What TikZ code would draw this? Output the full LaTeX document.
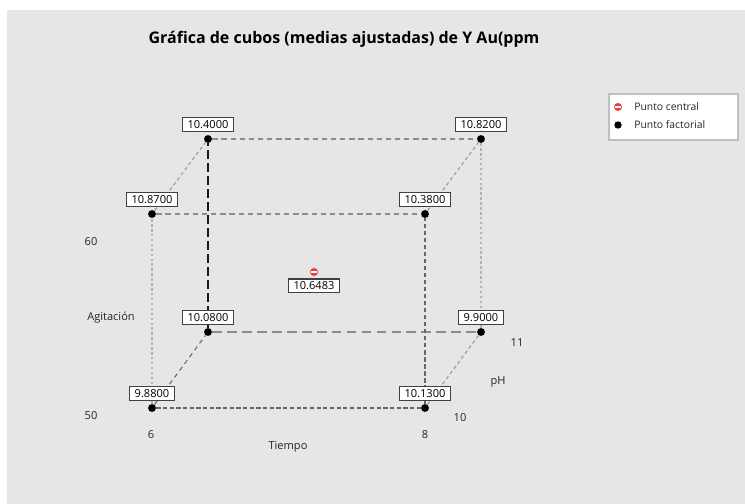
\documentclass[tikz,border=0pt]{standalone}
\usepackage{fontspec}
\setmainfont{Open Sans}
\usepackage{xcolor}
\usetikzlibrary{calc,positioning}

\definecolor{plotbg}{RGB}{230,230,230}
\definecolor{ptred}{RGB}{232,62,62}

\begin{document}
\begin{tikzpicture}[x=0.02cm,y=-0.02cm]

\tikzstyle{valbox} = [draw=black!75, line width=0.75pt, fill=white, rectangle, inner xsep=3pt, inner ysep=1.6pt, text height=4.6pt, text depth=0pt, font=\fontsize{6.3}{7}\selectfont];
\tikzstyle{mydot} = [fill,shape=circle,minimum width=4.5pt,inner sep=0pt];
\tikzstyle{reddot} = [fill=ptred,shape=circle,minimum width=4.6pt,inner sep=0pt];
\tikzstyle{axtext} = [text=black!85, inner sep=0pt, font=\fontsize{6.3}{7}\selectfont];

% background
\fill [white] (0,0) rectangle (745,504);
\fill [plotbg] (7,10) rectangle (745,504);

\node (title) at (344,39) {\fontsize{9.1}{11}\selectfont\bfseries Gráfica de cubos (medias ajustadas) de Y Au(ppm};

% corners of the cube
\node [mydot] (n1) at (152,408) {};
\node [mydot] (n2) at (425,408) {};
\node [mydot] (n3) at (208,332) {};
\node [mydot] (n4) at (481,332) {};
\node [mydot] (n5) at (152,214) {};
\node [mydot] (n6) at (425,214) {};
\node [mydot] (n7) at (208,139) {};
\node [mydot] (n8) at (481,139) {};

% Tiempo
\draw [black!60, line width=0.6pt, dash pattern=on 2.4pt off 1.4pt] (n1) -- (n2);
\draw [black!45, line width=0.7pt, dash pattern=on 5.5pt off 3pt] (n3) -- (n4);
\draw [black!45, line width=0.7pt, dash pattern=on 3pt off 2.2pt] (n5) -- (n6);
\draw [black!45, line width=0.7pt, dash pattern=on 3pt off 2.2pt] (n7) -- (n8);
% Agitacion
\draw [black!30, line width=0.6pt, dash pattern=on 1.4pt off 1.4pt] (n1) -- (n5);
\draw [black!60, line width=0.6pt, dash pattern=on 2.4pt off 1.6pt] (n2) -- (n6);
\draw [black!90, line width=0.9pt, dash pattern=on 5pt off 2.4pt] (n3) -- (n7);
\draw [black!30, line width=0.6pt, dash pattern=on 1.4pt off 1.4pt] (n4) -- (n8);
% pH
\draw [black!60, line width=0.6pt, dash pattern=on 2.6pt off 2.2pt] (n1) -- (n3);
\draw [black!40, line width=0.6pt, dash pattern=on 2pt off 1.6pt] (n2) -- (n4);
\draw [black!40, line width=0.6pt, dash pattern=on 2pt off 1.6pt] (n5) -- (n7);
\draw [black!40, line width=0.6pt, dash pattern=on 2pt off 1.6pt] (n6) -- (n8);

% fitted means
\node (v1) [valbox,above=0.05cm of n1] {9.8800};
\node (v2) [valbox,above=0.05cm of n2] {10.1300};
\node (v3) [valbox,above=0.05cm of n3] {10.0800};
\node (v4) [valbox,above=0.05cm of n4] {9.9000};
\node (v5) [valbox,above=0.05cm of n5] {10.8700};
\node (v6) [valbox,above=0.05cm of n6] {10.3800};
\node (v7) [valbox,above=0.05cm of n7] {10.4000};
\node (v8) [valbox,above=0.05cm of n8] {10.8200};

% center point
\node [reddot] (c) at (314,272) {};
\draw [white, line width=0.6pt] ($(c.west)+(1.5,0)$) -- ($(c.east)+(-1.5,0)$);
\node (vc) [valbox,below=0.04cm of c] {10.6483};

% factor levels
\node [axtext] (t60) at (91,242) {60};
\node [axtext] (t50) at (91,416) {50};
\node [axtext] (agit) at (111,318) {Agitación};
\node [axtext] (t6) at (151,435) {6};
\node [axtext] (t8) at (425,435) {8};
\node [axtext] (tiempo) at (288,447) {Tiempo};
\node [axtext] (t10) at (460,418) {10};
\node [axtext] (ph) at (498,382) {pH};
\node [axtext] (t11) at (517,343) {11};

% legend
\node (leg) [draw=black!25, line width=0.6pt, fill=white, minimum width=2.58cm, minimum height=0.92cm] at (673.5,117) {};
\node [reddot] (lc) at (618,107) {};
\draw [white, line width=0.6pt] ($(lc.west)+(1.5,0)$) -- ($(lc.east)+(-1.5,0)$);
\node [mydot,minimum width=4.2pt] (lf) at (618,125) {};
\node [axtext,anchor=west,font=\fontsize{5.9}{7}\selectfont] (lctext) at ($(lc.center)+(16,0)$) {Punto central};
\node [axtext,anchor=west,font=\fontsize{5.9}{7}\selectfont] (lftext) at ($(lf.center)+(16,0)$) {Punto factorial};

\end{tikzpicture}
\end{document}
